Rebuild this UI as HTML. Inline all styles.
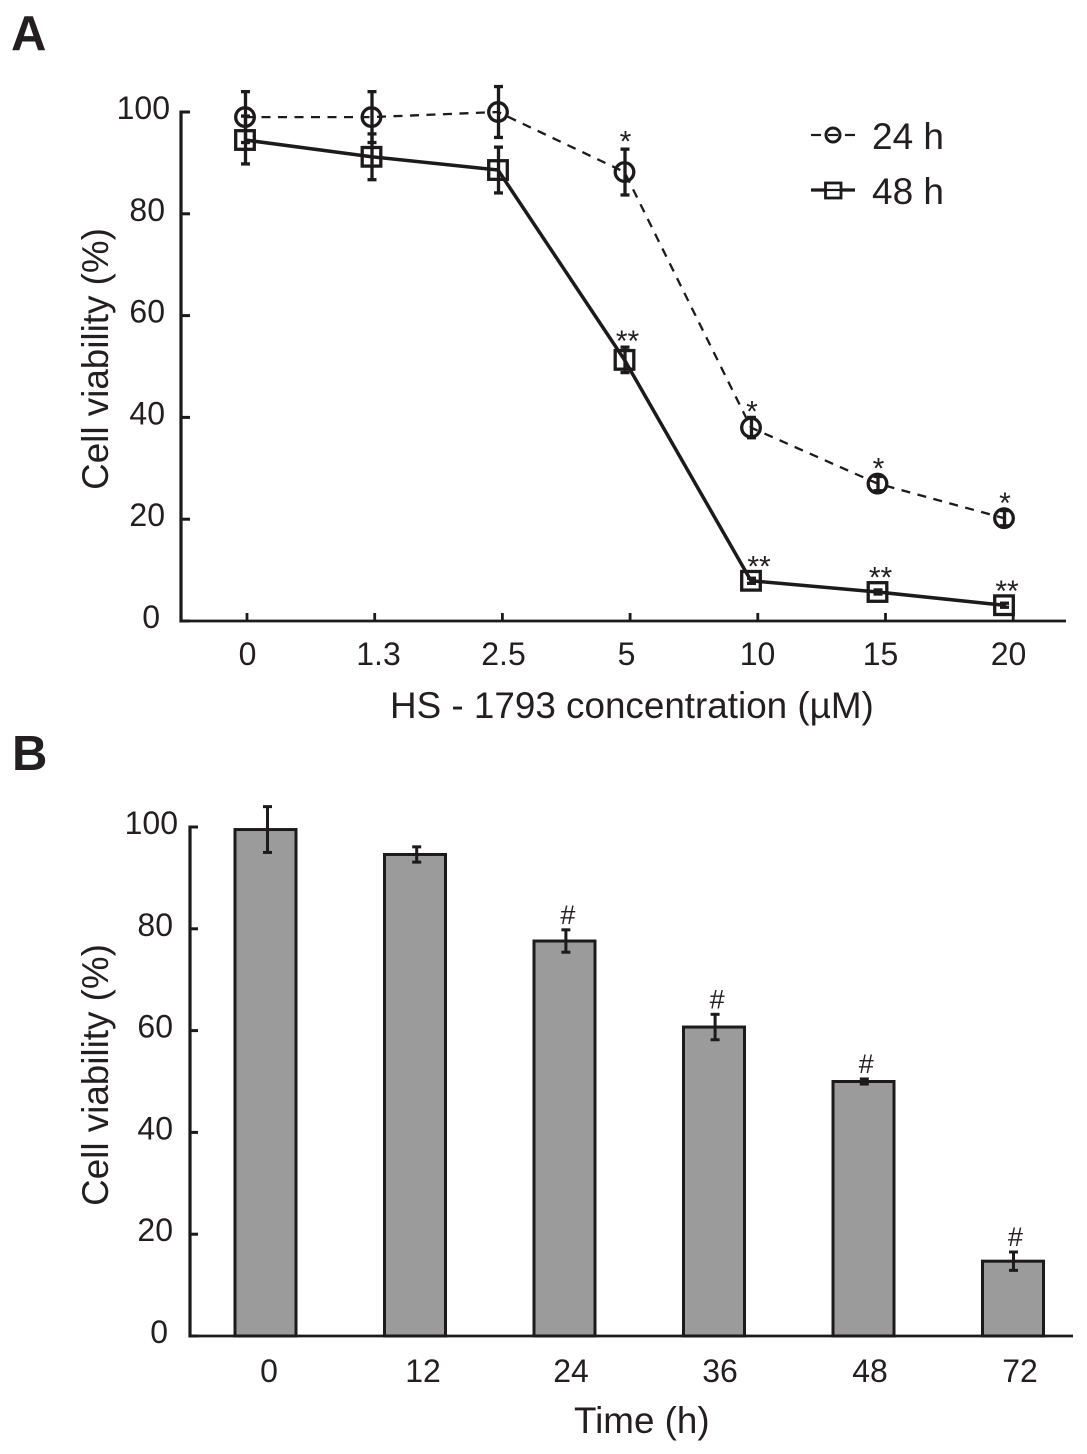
<!DOCTYPE html>
<html lang="en">
<head>
<meta charset="utf-8">
<title>Cell viability charts</title>
<style>
html,body{margin:0;padding:0;background:#fff;}
svg{display:block;}
text{font-family:"Liberation Sans",Arial,sans-serif;fill:#231f20;}
</style>
</head>
<body>
<svg id="figure" xmlns="http://www.w3.org/2000/svg" width="1087" height="1454" viewBox="0 0 1087 1454">
  <rect x="0" y="0" width="1087" height="1454" fill="#ffffff"/>
  <text x="11" y="50" font-size="49" font-weight="700">A</text>
  <text x="12" y="770" font-size="49" font-weight="700">B</text>
  <g id="panelA"></g>
  <g id="panelB"></g>
</svg>
<script>
const yTickValues = [0, 20, 40, 60, 80, 100];
const concentrationLabels = ['0', '1.3', '2.5', '5', '10', '15', '20'];
const viability24h = [99, 99, 100, 88.2, 38, 27, 20.2];
const error24h = [5, 5, 5, 4.5, 2, 1.4, 1.5];
const significance24h = ['', '', '', '*', '*', '*', '*'];
const viability48h = [94.5, 91.2, 88.6, 51.3, 7.9, 5.7, 3.1];
const error48h = [4.7, 4.5, 4.5, 2.5, 0.5, 0.4, 0.4];
const significance48h = ['', '', '', '**', '**', '**', '**'];
const timeLabels = ['0', '12', '24', '36', '48', '72'];
const barViability = [99.5, 94.6, 77.6, 60.7, 50, 14.7];
const barError = [4.5, 1.5, 2.2, 2.5, 0.5, 1.8];
const barSignificance = ['', '', '#', '#', '#', '#'];

const NS = 'http://www.w3.org/2000/svg';
const INK = '#1c1a1b';
const panelA = document.getElementById('panelA');
const panelB = document.getElementById('panelB');

function make(parent, tag, attrs, content) {
  const el = document.createElementNS(NS, tag);
  for (const k in attrs) el.setAttribute(k, attrs[k]);
  if (content !== undefined) el.textContent = content;
  parent.appendChild(el);
  return el;
}
function line(parent, x1, y1, x2, y2, w) {
  return make(parent, 'line', {x1: x1, y1: y1, x2: x2, y2: y2, stroke: INK, 'stroke-width': w});
}

/* axis functions */
const yA = v => 621 - 5.09 * v;
const yB = v => 1336 - 5.09 * v;
const tickXA = i => 247 + 127.7 * i;
const labelXA = i => 247.5 + 127 * i + [0, 4, 2, -2, 2, -2, -1][i];
const markerXA = i => 245 + 126.5 * i;
const barLeft = i => 235 + 149.5 * i;
const barErrX = i => 267.5 + 149.2 * i;
const labelXB = i => 270 + 150 * i + [-1, 3, 1, 0, 0, 0][i];
const BAR_W = 61;

/* ---------- Panel A ---------- */
const axisYA = line(panelA, 181, yA(100) - 1.5, 181, yA(0) + 1.5, 3.2);


const axisXA = line(panelA, 180, yA(0), 1066, yA(0), 2.8);



yTickValues.forEach(v => {
  const t = line(panelA, 181, yA(v), 190, yA(v), 3);
  
  
  const s = String(v);
  const l = make(panelA, 'text', {x: 160 + 5 * (s.length - 1), y: yA(v) + 7, 'font-size': 32, 'text-anchor': 'end'}, s);
  
  
});
concentrationLabels.forEach((c, i) => {
  const t = line(panelA, tickXA(i), yA(0), tickXA(i), yA(0) - 8, 2.8);
  
  
  const l = make(panelA, 'text', {x: labelXA(i), y: 665, 'font-size': 32, 'text-anchor': 'middle'}, c);
  
  
});

const titleYA = make(panelA, 'text', {transform: 'translate(108 359) rotate(-90)', 'font-size': 36.8, 'text-anchor': 'middle'}, 'Cell viability (%)');


const titleXA = make(panelA, 'text', {x: 390, y: 718, 'font-size': 36.85}, 'HS - 1793 concentration (µM)');



function pathFor(values) {
  return values.map((v, i) => (i ? 'L' : 'M') + markerXA(i) + ' ' + yA(v)).join(' ');
}
const line24 = make(panelA, 'path', {d: pathFor(viability24h), fill: 'none', stroke: INK, 'stroke-width': 2.3, 'stroke-dasharray': '9 7.5'});


const line48 = make(panelA, 'path', {d: pathFor(viability48h), fill: 'none', stroke: INK, 'stroke-width': 3.5, 'stroke-linejoin': 'round'});



function errorBar(parent, x, yHigh, yLow, capHalf, w) {
  const g = make(parent, 'g', {});
  line(g, x, yHigh, x, yLow, w);
  line(g, x - capHalf, yHigh, x + capHalf, yHigh, w);
  line(g, x - capHalf, yLow, x + capHalf, yLow, w);
  return g;
}
function starLabel(text, x, centerY) {
  const size = 30;
  return make(panelA, 'text', {x: x, y: centerY + 0.58 * size, 'font-size': size, 'text-anchor': 'middle'}, text);
}

viability24h.forEach((v, i) => {
  const x = markerXA(i), y = yA(v);
  const top = yA(v + error24h[i]), bottom = yA(v - error24h[i]);
  const e = errorBar(panelA, x + 0.5, top, bottom, 4.5, 3.3);
  
  
  const m = make(panelA, 'circle', {cx: x, cy: y, r: 9.3, fill: 'none', stroke: INK, 'stroke-width': 3.3});
  
  
  if (significance24h[i]) {
    const s = starLabel(significance24h[i], x + 1, Math.min(top, y - 10) - 11.5 - error24h[i] * 0.8);
    
    
  }
});
viability48h.forEach((v, i) => {
  const x = markerXA(i), y = yA(v);
  const top = yA(v + error48h[i]), bottom = yA(v - error48h[i]);
  const e = errorBar(panelA, x + 0.5, top, bottom, 4.5, 3.3);
  
  
  const m = make(panelA, 'rect', {x: x - 9.3, y: y - 9.3, width: 18.6, height: 18.6, fill: 'none', stroke: INK, 'stroke-width': 3.3});
  
  
  if (significance48h[i]) {
    const s = starLabel(significance48h[i], x + 3 + (i === 4 ? 5 : 0), Math.min(top, y - 10) - 11.5 - error48h[i] * 0.8);
    
    
  }
});

/* legend */
const legend24 = make(panelA, 'g', {});


line(legend24, 811, 135, 821, 135, 2.2);
line(legend24, 845, 135, 855, 135, 2.2);
line(legend24, 828, 135, 838, 135, 2.2);
make(legend24, 'circle', {cx: 833, cy: 135, r: 7, fill: 'none', stroke: INK, 'stroke-width': 3});
make(legend24, 'text', {x: 872, y: 149, 'font-size': 37}, '24 h');
const legend48 = make(panelA, 'g', {});


line(legend48, 811, 190, 855, 190, 3.2);
make(legend48, 'rect', {x: 825.5, y: 183, width: 15.5, height: 15, fill: '#fff', stroke: INK, 'stroke-width': 2.8});
line(legend48, 826, 190, 841, 190, 2.2);
make(legend48, 'text', {x: 872, y: 204, 'font-size': 37}, '48 h');

/* ---------- Panel B ---------- */
const axisYB = line(panelB, 190, yB(100) - 1.5, 190, yB(0) + 1.5, 3.2);



yTickValues.forEach(v => {
  const t = line(panelB, 190, yB(v), 198, yB(v), 3);
  
  
  const s = String(v);
  const l = make(panelB, 'text', {x: 168 + 5 * (s.length - 1), y: yB(v) + 7, 'font-size': 32, 'text-anchor': 'end'}, s);
  
  
});

barViability.forEach((v, i) => {
  const bar = make(panelB, 'rect', {x: barLeft(i), y: yB(v), width: BAR_W, height: yB(0) - yB(v), fill: '#9b9b9b', stroke: INK, 'stroke-width': 3});
  
  
  const top = yB(v + barError[i]), bottom = yB(v - barError[i]);
  const e = errorBar(panelB, barErrX(i), top, bottom, 4.5, 3);
  
  
  if (barSignificance[i]) {
    const s = make(panelB, 'text', {x: barErrX(i) + 2, y: top - 6, 'font-size': 27, 'text-anchor': 'middle'}, barSignificance[i]);
    
    
  }
});
timeLabels.forEach((c, i) => {
  const l = make(panelB, 'text', {x: labelXB(i), y: 1382, 'font-size': 32, 'text-anchor': 'middle'}, c);
  
  
});
const axisXB = line(panelB, 189, yB(0), 1073, yB(0), 2.8);



const titleYB = make(panelB, 'text', {transform: 'translate(108 1075) rotate(-90)', 'font-size': 36.8, 'text-anchor': 'middle'}, 'Cell viability (%)');


const titleXB = make(panelB, 'text', {x: 574, y: 1433, 'font-size': 36.8}, 'Time (h)');


</script>
</body>
</html>
